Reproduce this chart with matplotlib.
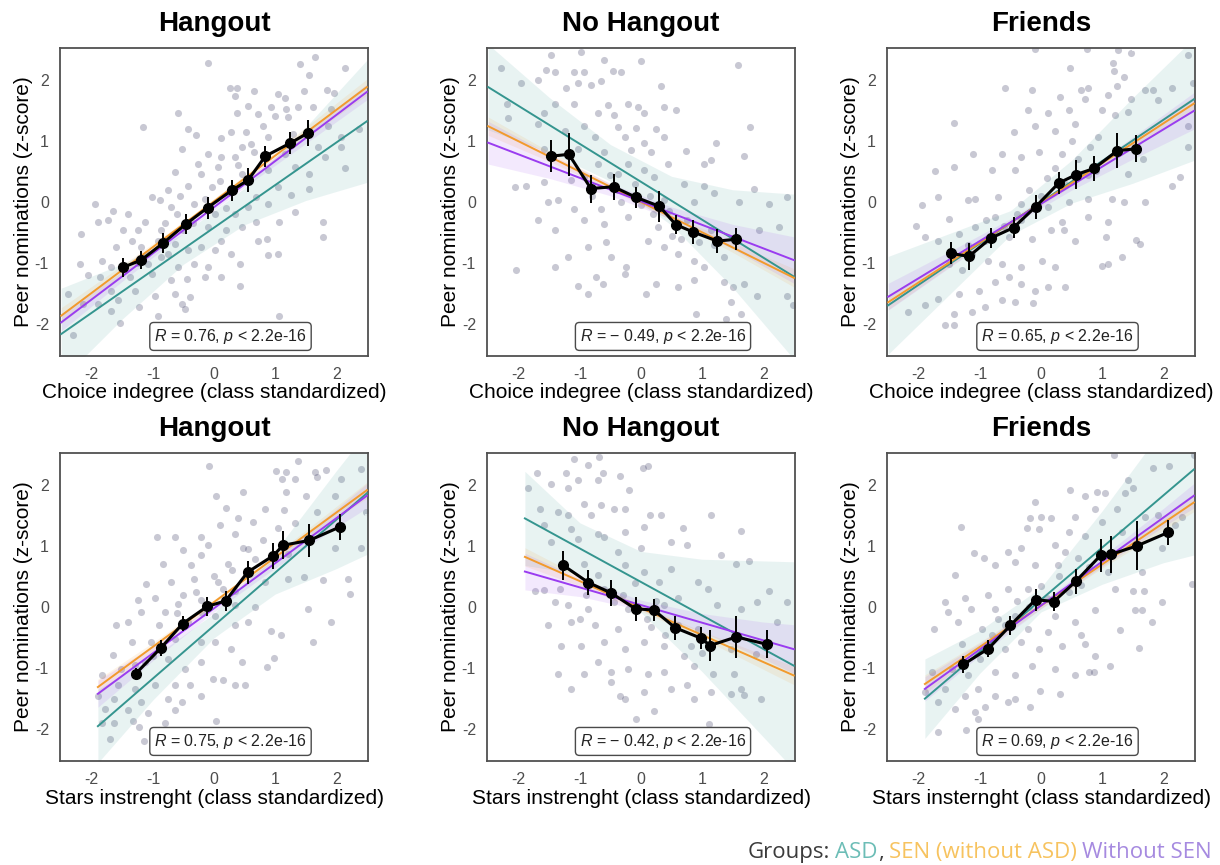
import numpy as np
import matplotlib
matplotlib.use("Agg")
import matplotlib.pyplot as plt
from matplotlib.text import Annotation

plt.rcParams["font.family"] = ["Liberation Sans", "DejaVu Sans"]
plt.rcParams["mathtext.fontset"] = "custom"
plt.rcParams["mathtext.it"] = "Liberation Sans:italic"
plt.rcParams["mathtext.rm"] = "Liberation Sans"
plt.rcParams["axes.unicode_minus"] = False

# group colours: ASD, SEN (without ASD), Without SEN
C_GROUPS = ["#35958f", "#f29a2c", "#9a3cf0"]
C_PTS = "#3c3c64"

TITLES = ["Hangout", "No Hangout", "Friends", "Hangout", "No Hangout", "Friends"]
XLABELS = ["Choice indegree (class standardized)"] * 3 + \
          ["Stars instrenght (class standardized)"] * 2 + \
          ["Stars insternght (class standardized)"]
R_VALS = ["0.76", "\u2212 0.49", "0.65", "0.75", "\u2212 0.42", "0.69"]

# binned means (black line) with error bars
BIN_X = [[-1.49, -1.19, -0.83, -0.46, -0.10, 0.29, 0.56, 0.84, 1.24, 1.54],
         [-1.47, -1.18, -0.82, -0.45, -0.09, 0.30, 0.57, 0.85, 1.25, 1.55],
         [-1.48, -1.18, -0.82, -0.45, -0.09, 0.29, 0.58, 0.87, 1.25, 1.55],
         [-1.28, -0.87, -0.51, -0.11, 0.19, 0.55, 0.97, 1.13, 1.56, 2.06],
         [-1.27, -0.86, -0.49, -0.09, 0.21, 0.56, 0.98, 1.13, 1.56, 2.06],
         [-1.27, -0.86, -0.50, -0.09, 0.21, 0.57, 0.98, 1.14, 1.57, 2.08]]
BIN_Y = [[-1.07, -0.95, -0.67, -0.36, -0.09, 0.19, 0.36, 0.75, 0.96, 1.13],
         [0.75, 0.78, 0.22, 0.25, 0.08, -0.07, -0.37, -0.49, -0.64, -0.61],
         [-0.84, -0.89, -0.59, -0.42, -0.08, 0.31, 0.45, 0.55, 0.84, 0.87],
         [-1.09, -0.67, -0.27, 0.01, 0.10, 0.57, 0.84, 1.01, 1.09, 1.31],
         [0.68, 0.40, 0.23, -0.03, -0.05, -0.34, -0.51, -0.63, -0.49, -0.61],
         [-0.94, -0.68, -0.30, 0.12, 0.09, 0.42, 0.85, 0.86, 1.00, 1.22]]
BIN_E = [[0.16, 0.15, 0.16, 0.17, 0.18, 0.17, 0.20, 0.17, 0.18, 0.22],
         [0.26, 0.35, 0.23, 0.21, 0.17, 0.25, 0.16, 0.19, 0.20, 0.18],
         [0.18, 0.22, 0.17, 0.17, 0.19, 0.18, 0.24, 0.21, 0.29, 0.22],
         [0.09, 0.13, 0.13, 0.16, 0.16, 0.19, 0.21, 0.23, 0.27, 0.21],
         [0.24, 0.20, 0.22, 0.20, 0.18, 0.20, 0.18, 0.25, 0.34, 0.23],
         [0.14, 0.14, 0.16, 0.18, 0.16, 0.20, 0.27, 0.31, 0.40, 0.21]]

# group regression lines: y at start / end of x range, per group (ASD, SEN, Without SEN)
FIT_XR = [[-2.5, 2.5], [-1.9, 2.5]]
FIT_Y = [[(-2.16, 1.32), (-1.86, 1.88), (-1.97, 1.80)],
         [(1.88, -1.22), (1.24, -1.24), (0.97, -0.95)],
         [(-1.69, 1.68), (-1.64, 1.61), (-1.55, 1.49)],
         [(-1.95, 1.86), (-1.31, 1.91), (-1.42, 1.82)],
         [(1.45, -0.96), (0.82, -1.12), (0.58, -0.69)],
         [(-1.50, 2.25), (-1.26, 1.71), (-1.34, 1.82)]]
# confidence band half-widths at BAND_X positions
BAND_X = [[-2.5, -1.5, -0.5, 0.5, 1.5, 2.5], [-1.9, -1.0, 0.0, 1.0, 2.0, 2.5]]
BAND_HW = [[[0.75, 0.45, 0.25, 0.30, 0.60, 1.00], [0.13, 0.08, 0.04, 0.05, 0.09, 0.13], [0.14, 0.08, 0.05, 0.05, 0.09, 0.13]],
           [[0.70, 0.45, 0.30, 0.40, 0.80, 1.35], [0.15, 0.08, 0.05, 0.05, 0.08, 0.15], [0.35, 0.20, 0.10, 0.10, 0.20, 0.38]],
           [[0.80, 0.50, 0.20, 0.35, 0.70, 1.00], [0.12, 0.07, 0.04, 0.05, 0.08, 0.12], [0.22, 0.13, 0.06, 0.08, 0.18, 0.30]],
           [[0.60, 0.35, 0.20, 0.35, 0.80, 1.00], [0.13, 0.07, 0.04, 0.05, 0.10, 0.13], [0.22, 0.12, 0.06, 0.08, 0.15, 0.20]],
           [[0.77, 0.42, 0.50, 0.92, 1.44, 1.70], [0.15, 0.08, 0.05, 0.06, 0.12, 0.15], [0.30, 0.15, 0.08, 0.15, 0.30, 0.40]],
           [[0.65, 0.35, 0.20, 0.60, 1.10, 1.40], [0.15, 0.08, 0.05, 0.06, 0.12, 0.15], [0.20, 0.10, 0.05, 0.08, 0.15, 0.20]]]

# individual pupils (subset)
PTS_1 = [(-0.10, 2.28), (1.65, 2.37), (1.40, 2.26), (1.56, 2.08), (2.14, 2.20), (0.26, 1.87), (0.37, 1.86), (0.66, 1.82),
         (1.05, 1.77), (1.48, 1.82), (1.85, 1.84), (1.97, 1.79), (0.34, 1.73), (1.16, 1.71), (1.18, 1.53), (0.56, 1.57),
         (0.93, 1.55), (1.37, 1.56), (1.62, 1.56), (-0.59, 1.45), (0.72, 1.44), (0.37, 1.45), (-1.16, 1.22), (1.86, 1.24),
         (2.38, 1.19), (-0.43, 1.20), (0.28, 1.15), (0.53, 1.15), (0.88, 1.07), (1.29, 1.12), (2.08, 1.07), (0.12, 1.05),
         (0.45, 0.90), (-0.29, 1.09), (-0.53, 0.87), (-0.10, 0.79), (0.12, 0.74), (0.34, 0.74), (0.66, 0.82), (1.16, 0.79),
         (1.70, 0.90), (1.81, 0.74), (-0.26, 0.63), (-0.64, 0.49), (-0.21, 0.46), (0.07, 0.57), (0.45, 0.46), (0.88, 0.52),
         (1.32, 0.57), (1.56, 0.46), (2.14, 0.55), (-0.75, 0.19), (-0.43, 0.27), (-0.04, 0.25), (0.23, 0.14), (0.69, 0.08),
         (1.05, 0.25), (1.56, 0.22), (1.26, 0.11), (-1.95, -0.04), (-1.65, -0.14), (-1.41, -0.19), (-1.02, 0.08), (-0.89, 0.03),
         (-0.70, -0.08), (-0.32, -0.03), (0.01, -0.19), (0.34, -0.19), (0.56, -0.08), (0.88, -0.03), (1.32, -0.16), (-1.90, -0.33),
         (-1.73, -0.30), (-1.13, -0.33), (-0.86, -0.46), (-0.51, -0.46), (-0.10, -0.41), (0.20, -0.46), (0.45, -0.41), (0.69, -0.33),
         (1.07, -0.33), (1.79, -0.33), (-2.17, -0.52), (-1.49, -0.46), (-1.24, -0.46), (-1.35, -0.63), (-0.92, -0.63), (-0.64, -0.68),
         (-0.21, -0.74), (0.12, -0.63), (0.28, -0.85), (0.72, -0.63), (0.86, -0.60), (1.79, -0.58), (-1.60, -0.74), (-1.19, -0.74),
         (-0.75, -0.85), (-0.43, -0.79), (0.01, -0.79), (1.05, -0.85), (0.88, -0.87), (-2.20, -1.01), (-1.84, -0.96), (-1.68, -1.07),
         (-1.08, -1.01), (-0.86, -0.90), (-0.59, -1.07), (-0.32, -1.01), (-0.10, -1.07), (0.42, -1.01), (-2.06, -1.20), (-1.87, -1.23),
         (-1.38, -1.23), (-1.02, -1.17), (-0.70, -1.28), (-0.45, -1.26), (-0.15, -1.23), (0.12, -1.23), (0.42, -1.37), (-2.39, -1.50),
         (-1.68, -1.45), (-1.30, -1.45), (-0.97, -1.53), (-0.64, -1.50), (-0.40, -1.56), (-2.14, -1.67), (-1.90, -1.67), (-1.57, -1.61),
         (-1.22, -1.72), (-0.53, -1.67), (-1.68, -1.78), (-0.92, -1.86), (-0.48, -1.75), (1.07, -1.87), (-1.54, -1.98), (-2.31, -2.17),
         (1.92, 1.53), (2.08, 0.90), (1.21, 1.39), (-0.80, -0.35), (-0.60, -0.20), (-0.35, -0.35), (-0.15, 0.05), (0.10, 0.35),
         (0.40, 0.60), (0.60, 0.95), (0.80, 1.25), (1.00, 1.40), (-1.10, -0.85), (-1.25, -1.00), (-0.55, 0.10), (0.20, -0.10)]
PTS_2 = [(-2.29, 2.19), (-1.47, 2.40), (-0.98, 2.46), (-0.61, 2.32), (0.00, 2.30), (1.58, 2.25), (-1.55, 2.16), (-1.41, 2.13),
         (-1.10, 2.13), (-0.93, 2.13), (-0.46, 2.15), (-0.32, 2.13), (-1.69, 1.99), (-1.96, 1.94), (-1.22, 1.87), (-1.03, 1.94),
         (-0.82, 1.91), (-0.65, 1.98), (0.33, 1.90), (-2.20, 1.60), (-1.41, 1.61), (-1.10, 1.60), (-0.54, 1.58), (-0.22, 1.60),
         (-0.05, 1.56), (0.38, 1.56), (0.57, 1.50), (-2.18, 1.37), (-1.58, 1.45), (-0.71, 1.46), (-0.44, 1.42), (0.05, 1.45),
         (1.79, 1.23), (-1.69, 1.27), (-1.25, 1.17), (-0.93, 1.24), (-0.38, 1.23), (-0.08, 1.21), (0.24, 1.20), (-0.76, 1.07),
         (-0.27, 1.07), (0.05, 0.96), (0.38, 1.07), (1.22, 0.97), (-1.58, 0.87), (-1.03, 0.87), (-0.60, 0.82), (-0.16, 0.85),
         (0.16, 0.82), (0.73, 0.84), (1.69, 0.75), (1.03, 0.63), (1.14, 0.68), (-0.22, 0.63), (-0.71, 0.63), (0.44, 0.63),
         (-2.07, 0.25), (-1.88, 0.27), (-1.58, 0.33), (-1.14, 0.36), (-0.93, 0.41), (-0.38, 0.46), (0.05, 0.52), (0.22, 0.41),
         (0.71, 0.30), (1.03, 0.27), (1.20, 0.14), (1.85, 0.22), (2.39, 0.08), (-1.52, 0.00), (-1.36, 0.03), (-1.09, -0.11),
         (-0.65, -0.11), (-0.33, 0.00), (0.00, -0.05), (0.38, 0.03), (0.87, 0.00), (1.61, 0.00), (2.10, -0.03), (-1.69, -0.30),
         (-1.41, -0.46), (-0.93, -0.30), (-0.60, -0.36), (-0.22, -0.25), (0.27, -0.41), (0.76, -0.30), (1.14, -0.46), (1.93, -0.46),
         (2.26, -0.41), (-2.04, -1.11), (-1.41, -1.07), (-1.20, -0.90), (-0.87, -0.74), (-0.57, -0.66), (-0.49, -0.90), (-0.24, -1.07),
         (0.11, -0.63), (0.38, -0.74), (0.60, -0.85), (0.87, -0.96), (1.03, -1.07), (1.36, -0.90), (-1.03, -1.37), (-0.73, -1.23),
         (-0.63, -1.34), (-0.27, -1.17), (0.08, -1.50), (0.24, -1.34), (0.60, -1.39), (0.87, -1.28), (1.36, -1.31), (1.50, -1.39),
         (1.69, -1.34), (2.39, -1.53), (2.48, -1.69), (-0.87, -1.50), (0.90, -1.83), (1.47, -1.64), (1.39, -1.91), (1.63, -1.83),
         (1.90, -1.53), (-0.40, 0.20), (-0.10, 0.30), (0.20, -0.20), (0.50, -0.55), (0.65, -0.60), (-0.80, 0.10), (0.15, 0.10),
         (0.95, -0.65), (-0.50, 0.45), (0.45, -0.15), (1.20, -0.70)]
PTS_3 = [(-0.10, 2.51), (0.75, 2.50), (1.26, 2.49), (1.48, 2.44), (2.41, 2.40), (1.18, 2.28), (0.47, 2.19), (1.20, 2.15),
         (1.36, 2.04), (2.49, 1.95), (-0.59, 1.86), (-0.14, 1.84), (0.66, 1.84), (0.77, 1.87), (1.24, 1.90), (1.70, 1.83),
         (1.84, 1.84), (2.15, 1.86), (0.31, 1.72), (1.10, 1.75), (1.48, 1.68), (0.72, 1.69), (1.92, 1.67), (0.12, 1.46),
         (0.45, 1.50), (-0.21, 1.50), (0.99, 1.50), (1.43, 1.48), (-1.43, 1.30), (-0.44, 1.15), (-0.10, 1.24), (0.23, 1.17),
         (0.56, 1.27), (1.21, 1.42), (2.41, 1.24), (-1.11, 0.79), (-0.64, 0.79), (-0.32, 0.74), (-0.04, 0.82), (0.34, 0.79),
         (0.94, 1.07), (1.67, 0.71), (2.41, 0.90), (-1.73, 0.51), (-1.43, 0.58), (-0.81, 0.53), (-0.43, 0.52), (0.23, 0.55),
         (0.77, 0.44), (1.43, 0.46), (2.27, 0.41), (2.14, 0.26), (-1.68, 0.08), (-1.95, -0.05), (-1.19, 0.03), (-1.08, 0.05),
         (-0.70, 0.08), (-0.32, -0.03), (0.12, -0.08), (0.45, 0.00), (0.77, 0.05), (1.16, 0.05), (1.70, 0.00), (1.35, 0.00),
         (-2.05, -0.40), (-1.51, -0.27), (-1.08, -0.41), (-0.75, -0.25), (-0.32, -0.30), (0.17, -0.46), (0.34, -0.33), (0.77, -0.25),
         (1.10, -0.33), (1.56, -0.62), (1.62, -0.69), (-1.90, -0.57), (-1.68, -0.63), (-1.35, -0.52), (-0.92, -0.63), (-0.53, -0.57),
         (-0.15, -0.60), (0.37, -0.46), (0.56, -0.63), (1.07, -0.58), (0.99, -1.05), (1.10, -1.01), (1.32, -0.90), (0.39, -1.39),
         (-2.17, -1.80), (-1.90, -1.69), (-1.68, -1.58), (-1.57, -2.02), (-1.43, -2.02), (-1.43, -1.83), (-1.13, -1.80), (-0.92, -1.72),
         (-0.64, -1.61), (-0.43, -1.64), (-0.13, -1.66), (-1.35, -1.50), (-1.02, -1.45), (-0.75, -1.31), (-0.53, -1.23), (-0.32, -1.34),
         (-0.10, -1.45), (0.12, -1.39), (-1.30, -1.12), (-1.51, -1.01), (-0.64, -1.01), (-0.32, -1.07), (0.01, -0.96), (0.23, -1.07),
         (-1.13, -0.85), (-0.86, -0.96), (-0.60, -0.40), (-0.40, -0.20), (-0.20, 0.20), (0.10, 0.40), (0.40, 0.30), (0.60, 0.70),
         (0.90, 0.50), (-0.90, -0.30), (-1.20, -0.70), (0.00, 0.10), (0.50, 1.00), (0.80, 0.90)]
PTS_4 = [(-0.09, 2.30), (1.38, 2.39), (1.02, 2.22), (1.18, 2.21), (1.65, 2.21), (1.84, 2.24), (2.41, 2.26), (1.11, 2.09),
         (1.32, 2.10), (1.68, 2.13), (2.08, 2.09), (0.04, 1.82), (0.47, 1.89), (1.18, 1.89), (1.51, 1.82), (1.98, 1.82),
         (0.20, 1.62), (0.83, 1.61), (1.15, 1.58), (1.68, 1.56), (2.49, 1.55), (0.39, 1.46), (0.64, 1.39), (0.09, 1.34),
         (1.32, 1.37), (-0.94, 1.15), (-0.64, 1.15), (-0.21, 1.15), (0.34, 1.20), (-0.10, 1.01), (-0.51, 0.93), (0.47, 0.96),
         (1.21, 0.87), (1.98, 0.96), (2.41, 0.96), (-0.84, 0.71), (-0.37, 0.68), (-0.21, 0.85), (0.23, 0.71), (0.67, 0.79),
         (1.48, 0.49), (1.78, 0.44), (2.19, 0.46), (2.22, 0.22), (-1.11, 0.38), (-0.70, 0.41), (-0.32, 0.46), (0.07, 0.41),
         (0.34, 0.27), (0.83, 0.41), (1.21, 0.46), (-1.24, 0.11), (-0.97, 0.14), (-0.59, 0.05), (-0.21, 0.11), (0.34, 0.03),
         (0.67, 0.00), (1.54, -0.03), (-1.60, -0.30), (-1.41, -0.25), (-1.19, -0.08), (-0.81, -0.08), (-0.42, -0.25), (0.01, -0.14),
         (0.34, -0.30), (0.56, -0.25), (0.93, -0.40), (1.10, -0.45), (1.92, -0.25), (1.62, -0.57), (-1.65, -0.79), (-1.35, -0.57),
         (-1.03, -0.57), (-0.64, -0.52), (-0.21, -0.57), (0.01, -0.57), (0.28, -0.68), (0.45, -0.90), (0.98, -0.84), (0.86, -0.98),
         (-1.84, -1.12), (-1.52, -1.01), (-1.13, -0.90), (-0.75, -0.85), (-0.48, -1.01), (-0.21, -0.90), (-0.02, -1.17), (0.15, -1.20),
         (0.34, -1.28), (0.50, -1.28), (-1.57, -1.28), (-1.30, -1.34), (-0.97, -1.28), (-0.64, -1.28), (-0.40, -1.28), (-1.90, -1.45),
         (-1.63, -1.50), (-1.19, -1.56), (-0.75, -1.50), (-0.53, -1.56), (-0.21, -1.45), (-1.79, -1.67), (-1.41, -1.69), (-1.08, -1.73),
         (-0.64, -1.69), (-1.84, -1.90), (-1.63, -1.89), (-1.33, -1.86), (-0.81, -1.89), (-1.22, -1.97), (-1.71, -2.16), (-1.14, -2.19),
         (0.04, -1.86), (-0.90, -0.30), (-0.60, -0.10), (-0.30, 0.25), (0.00, 0.50), (0.30, 0.60), (0.55, 0.95), (-1.00, -0.80),
         (-0.50, 0.20), (0.15, 0.30), (-1.30, -0.95), (-0.20, -0.10), (0.80, 1.10), (1.05, 1.30)]
PTS_5 = [(-1.85, 1.95), (-1.70, 2.20), (-1.09, 2.43), (-0.69, 2.46), (-1.22, 2.20), (-0.87, 2.32), (-0.63, 2.19), (-0.35, 2.14),
         (0.03, 2.27), (0.12, 2.30), (-1.47, 2.02), (-1.20, 1.94), (-1.03, 2.08), (-0.71, 2.08), (-0.19, 1.91), (-0.93, 1.69),
         (-0.65, 1.67), (-0.44, 1.61), (-0.27, 1.61), (-1.66, 1.61), (-1.36, 1.56), (-1.20, 1.50), (-0.82, 1.50), (0.14, 1.51),
         (0.33, 1.50), (1.14, 1.50), (1.63, 1.24), (-1.58, 1.34), (-1.14, 1.28), (-0.71, 1.20), (-0.27, 1.23), (0.05, 1.31),
         (0.68, 1.30), (-1.47, 1.07), (-1.03, 1.12), (-0.60, 1.15), (-0.38, 0.90), (0.00, 0.96), (0.49, 1.07), (0.76, 1.01),
         (1.31, 0.85), (1.55, 0.71), (1.77, 0.75), (-1.74, 0.27), (-1.58, 0.28), (-1.33, 0.30), (-0.93, 0.71), (-0.71, 0.52),
         (-0.27, 0.68), (0.05, 0.57), (0.30, 0.41), (0.49, 0.63), (0.93, 0.41), (1.09, 0.30), (1.90, 0.09), (2.10, 0.27),
         (2.39, 0.09), (-1.41, 0.09), (-1.20, 0.03), (-0.87, -0.03), (-0.44, 0.08), (-0.22, -0.03), (0.38, 0.03), (0.60, 0.14),
         (1.25, 0.03), (1.63, -0.03), (-1.52, -0.29), (-1.14, -0.25), (-0.76, -0.30), (-0.38, -0.36), (0.16, -0.33), (0.60, -0.30),
         (0.93, -0.36), (2.23, -0.25), (-1.31, -0.63), (-0.98, -0.63), (-0.60, -0.57), (-0.27, -0.68), (0.05, -0.57), (0.38, -0.63),
         (0.82, -0.63), (1.47, -0.68), (1.88, -0.77), (-1.36, -1.09), (-0.93, -1.09), (-0.71, -0.90), (-0.49, -1.07), (-0.22, -1.01),
         (0.11, -1.09), (0.38, -1.07), (0.87, -0.96), (1.17, -1.09), (1.52, -1.09), (-1.14, -1.34), (-0.49, -1.23), (-0.35, -1.45),
         (0.05, -1.39), (0.49, -1.34), (0.76, -1.28), (1.14, -1.39), (1.63, -1.34), (1.69, -1.44), (-0.27, -1.50), (0.87, -1.50),
         (1.96, -1.50), (0.22, -1.70), (-0.08, -1.83), (1.12, -1.91), (1.47, -1.42), (-0.60, 0.30), (-0.30, 0.20), (0.10, -0.20),
         (0.40, -0.45), (-0.90, 0.20), (0.70, -0.80), (1.00, -0.75), (-1.00, -0.20), (-0.10, 0.40), (0.25, 0.10)]
PTS_6 = [(1.19, 2.49), (2.51, 2.48), (1.84, 2.27), (2.09, 2.31), (1.43, 2.08), (1.51, 1.94), (0.48, 1.91), (0.91, 1.89),
         (1.05, 1.86), (1.37, 1.86), (0.72, 1.82), (-0.10, 1.72), (0.89, 1.61), (1.24, 1.61), (1.92, 1.50), (2.31, 1.48),
         (-1.31, 1.31), (-0.18, 1.45), (0.00, 1.48), (0.16, 1.45), (0.56, 1.48), (0.99, 1.39), (1.70, 1.48), (2.20, 1.34),
         (-0.23, 1.30), (-0.04, 1.28), (0.45, 1.23), (0.72, 1.17), (1.32, 1.23), (-1.09, 0.89), (-0.93, 0.80), (-0.54, 0.90),
         (-0.32, 0.96), (0.23, 1.01), (1.98, 0.96), (-1.41, 0.53), (-0.75, 0.68), (-0.43, 0.74), (-0.10, 0.68), (0.28, 0.68),
         (0.78, 0.66), (1.10, 0.57), (1.65, 0.57), (2.47, 0.37), (-1.57, 0.09), (-1.25, 0.14), (-0.86, 0.19), (-0.54, 0.30),
         (-0.21, 0.30), (0.45, 0.25), (0.66, 0.36), (1.21, 0.30), (1.51, 0.27), (1.68, 0.26), (1.98, 0.09), (-1.52, -0.08),
         (-1.14, -0.03), (-0.75, -0.03), (-0.43, -0.14), (0.23, -0.14), (0.56, -0.25), (0.89, -0.05), (1.54, -0.05), (1.65, -0.05),
         (-1.75, -0.36), (-1.36, -0.25), (-0.97, -0.36), (-0.59, -0.30), (-0.21, -0.36), (0.12, -0.41), (0.66, -0.46), (1.30, -0.38),
         (1.81, -0.25), (-1.30, -0.60), (-0.86, -0.63), (-0.59, -0.68), (-0.32, -0.57), (-0.04, -0.68), (0.34, -0.63), (0.72, -0.60),
         (1.60, -0.67), (0.89, -0.80), (1.13, -0.96), (0.78, -1.07), (0.87, -1.07), (-1.79, -1.07), (-1.46, -1.01), (-1.19, -1.12),
         (-0.75, -1.07), (-0.43, -1.12), (-0.15, -0.96), (0.23, -1.01), (0.56, -1.12), (-1.90, -1.39), (-1.57, -1.34), (-1.25, -1.45),
         (-1.03, -1.34), (-0.75, -1.45), (-0.43, -1.50), (-0.02, -1.37), (0.31, -1.42), (-1.68, -1.56), (-1.41, -1.67), (-1.08, -1.72),
         (-0.92, -1.64), (-0.54, -1.56), (-0.18, -1.64), (-1.68, -2.04), (-1.22, -2.01), (-1.03, -1.83), (-0.70, -0.20), (-0.40, 0.10),
         (0.00, 0.35), (0.30, 0.50), (0.60, 0.80), (-1.00, -0.85), (-0.80, -0.45), (-0.20, 0.00), (0.40, 0.90), (0.10, 0.15)]
PTS = [PTS_1, PTS_2, PTS_3, PTS_4, PTS_5, PTS_6]

LEGEND_PARTS = ["Groups:", "ASD", ",", "SEN (without ASD)", "Without SEN"]
LEGEND_COLORS = ["#3b3b3b", "#6cbdb6", "#3b3b3b", "#f7c35f", "#a68ae0"]
LEGEND_GAPS = [4, 0, 4, 4]   # space (points) after each part

W_PX, H_PX = 1220, 865
LEFTS = [60, 487, 887]
TOPS = [48, 453]
SIZE = 308

fig = plt.figure(figsize=(W_PX / 100, H_PX / 100), dpi=100)

for i in range(6):
    r, c = divmod(i, 3)
    ax = fig.add_axes([LEFTS[c] / W_PX, 1 - (TOPS[r] + SIZE) / H_PX, SIZE / W_PX, SIZE / H_PX])

    pts = np.array(PTS[i])
    ax.scatter(pts[:, 0], pts[:, 1], s=26, color=C_PTS, alpha=0.28, linewidths=0, zorder=1)

    bx = np.array(BAND_X[r])
    for g, col in enumerate(C_GROUPS):
        y0, y1 = FIT_Y[i][g]
        yc = np.interp(bx, FIT_XR[r], [y0, y1])
        hw = np.array(BAND_HW[i][g])
        ax.fill_between(bx, yc - hw, yc + hw, color=col, alpha=0.11, linewidth=0, zorder=2)
    for g, col in enumerate(C_GROUPS):
        ax.plot(FIT_XR[r], FIT_Y[i][g], color=col, lw=1.4, zorder=3)

    ax.errorbar(BIN_X[i], BIN_Y[i], yerr=BIN_E[i], color="black", lw=2.2, marker="o", ms=7,
                elinewidth=1.4, capsize=0, zorder=4)

    ax.text(0.27 if c != 1 else 0.36, -2.2, f"$R$ = {R_VALS[i]}, $p$ < 2.2e-16", ha="center", va="center",
            fontsize=11.5, color="#222222", zorder=5,
            bbox=dict(boxstyle="round,pad=0.28,rounding_size=0.25", fc="white", ec="#4a4a4a", lw=1.0))

    ax.set_xlim(-2.52, 2.52)
    ax.set_ylim(-2.52, 2.52)
    ax.set_xticks([-2, -1, 0, 1, 2])
    ax.set_yticks([-2, -1, 0, 1, 2])
    ax.set_xticks([-1.5, -0.5, 0.5, 1.5], minor=True)
    ax.set_yticks([-1.5, -0.5, 0.5, 1.5], minor=True)
    ax.tick_params(which="major", length=0, pad=8, labelsize=11.5, labelcolor="#4d4d4d")
    ax.tick_params(which="minor", direction="inout", length=4, width=1.2, color="white",
                   top=True, right=True)
    for sp in ax.spines.values():
        sp.set_color("#505050")
        sp.set_linewidth(1.3)

    ax.set_title(TITLES[i], fontsize=20, fontweight="bold", pad=12)
    ax.set_xlabel(XLABELS[i], fontsize=15, labelpad=1)
    ax.set_ylabel("Peer nominations (z-score)", fontsize=15, labelpad=1)

# coloured "Groups:" caption, chained right to left
prev = fig.text(1212 / W_PX, 1 - 858 / H_PX, LEGEND_PARTS[-1], ha="right", va="baseline",
                fontsize=16, color=LEGEND_COLORS[-1], family="Open Sans")
for k in range(len(LEGEND_PARTS) - 2, -1, -1):
    ann = Annotation(LEGEND_PARTS[k], xy=(0, 0), xycoords=prev,
                     xytext=(-LEGEND_GAPS[k], 0), textcoords="offset points",
                     ha="right", va="bottom", fontsize=16, color=LEGEND_COLORS[k], family="Open Sans")
    fig.add_artist(ann)
    prev = ann

fig.savefig("out.png", dpi=100)
